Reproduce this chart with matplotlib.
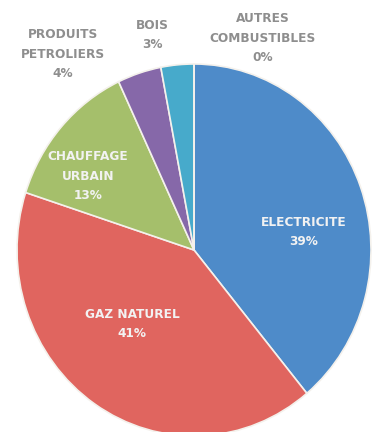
import matplotlib.pyplot as plt

# parts de consommation par energie (%)
categories = ["ELECTRICITE", "GAZ NATUREL", "CHAUFFAGE\nURBAIN",
              "PRODUITS\nPETROLIERS", "BOIS", "AUTRES\nCOMBUSTIBLES"]
parts = [39, 41, 13, 4, 3, 0]
couleurs = ["#4E8BC9", "#E0655F", "#A5BF6B", "#8668A9", "#47AACB", "#F79646"]

# position des etiquettes (pixels, origine en haut a gauche)
pos_labels = [(304, 232), (132, 324), (88, 176), (63, 54), (152, 35), (263, 38)]
labels_dedans = [True, True, True, False, False, False]

W, H = 377, 432
# centre et rayons du camembert en pixels (legerement ovale)
cx, cy = 194, 250
rx, ry = 177, 186

fig = plt.figure(figsize=(W / 100, H / 100), dpi=100)
ax = fig.add_axes([0, 0, 1, 1])

ax.pie(parts, colors=couleurs, startangle=90, counterclock=False,
       radius=1,
       wedgeprops=dict(edgecolor='#F4F1EC', linewidth=1.2))

# la pie remet ses propres limites, on les force apres
ax.set_aspect('auto')
ax.set_xlim(-cx / rx, (W - cx) / rx)
ax.set_ylim(-(H - cy) / ry, cy / ry)
ax.axis('off')

for nom, val, (x, y), dedans in zip(categories, parts, pos_labels, labels_dedans):
    txt = f"{nom}\n{val}%"
    fig.text(x / W, 1 - y / H, txt, ha='center', va='center', fontsize=8.7,
             fontweight='bold', linespacing=1.65,
             color='#F2F2F2' if dedans else '#8E8E8E')

fig.savefig("out.png", dpi=100)
